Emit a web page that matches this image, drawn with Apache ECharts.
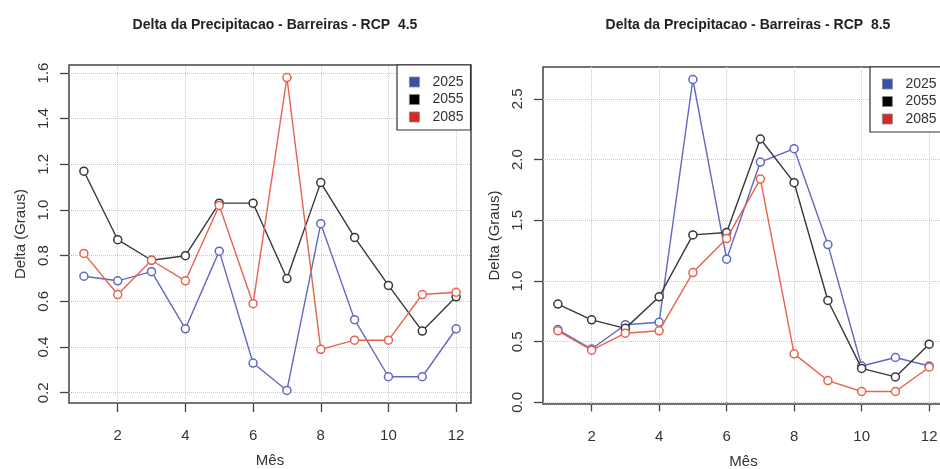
<!DOCTYPE html>
<html>
<head>
<meta charset="utf-8">
<script src="https://cdn.jsdelivr.net/npm/echarts@6/dist/echarts.min.js"></script>
<style>
html,body{margin:0;padding:0;background:#fff;}
#chart{width:940px;height:469px;}
</style>
</head>
<body>
<div id="chart"></div>
<script>
// ---- data ----
var months = [1,2,3,4,5,6,7,8,9,10,11,12];
var seriesNames = ['2025','2055','2085'];
// RCP 4.5
var rcp45_2025 = [0.71,0.69,0.73,0.48,0.82,0.33,0.21,0.94,0.52,0.27,0.27,0.48];
var rcp45_2055 = [1.17,0.87,0.78,0.80,1.03,1.03,0.70,1.12,0.88,0.67,0.47,0.62];
var rcp45_2085 = [0.81,0.63,0.78,0.69,1.02,0.59,1.58,0.39,0.43,0.43,0.63,0.64];
// RCP 8.5
var rcp85_2025 = [0.60,0.44,0.64,0.66,2.66,1.18,1.98,2.09,1.30,0.30,0.37,0.30];
var rcp85_2055 = [0.81,0.68,0.61,0.87,1.38,1.40,2.17,1.81,0.84,0.28,0.21,0.48];
var rcp85_2085 = [0.59,0.43,0.57,0.59,1.07,1.35,1.84,0.40,0.18,0.09,0.09,0.29];
// tick labels
var xTicks = [2,4,6,8,10,12];
var yTicks45 = [0.2,0.4,0.6,0.8,1.0,1.2,1.4,1.6];
var yTicks85 = [0.0,0.5,1.0,1.5,2.0,2.5];
var titles = ['Delta da Precipitacao - Barreiras - RCP  4.5','Delta da Precipitacao - Barreiras - RCP  8.5'];

// ---- styles ----
var lineColors = ['#6068c0','#383838','#e8624e'];
var legendColors = ['#3850a8','#000000','#d62828'];
var FONT = 'Liberation Sans, Arial, sans-serif';
var axisColor = '#444';

function pairs(vals){ return months.map(function(m,i){ return [m, vals[i]]; }); }

function gridMarks(yt){
  var d = [];
  xTicks.forEach(function(v){ d.push({xAxis: v}); });
  yt.forEach(function(v){ d.push({yAxis: v}); });
  return d;
}

function makeXAxis(idx){
  return {
    type:'value', gridIndex: idx, min:0.56, max:12.44,
    name:'Mês', nameLocation:'middle', nameGap:50,
    nameTextStyle:{fontFamily:FONT, fontSize:15, color:'#333'},
    axisLine:{show:false},
    axisTick:{show:true, inside:false, length:9, customValues: xTicks, lineStyle:{color:axisColor, width:1.3}},
    axisLabel:{show:true, margin:25, customValues: xTicks, fontFamily:FONT, fontSize:15, color:'#333',
      formatter:function(v){return String(v);}},
    splitLine:{show:false}
  };
}
function makeYAxis(idx, min, max, yt){
  return {
    type:'value', gridIndex: idx, min:min, max:max,
    name:'Delta (Graus)', nameLocation:'middle', nameGap:41, nameRotate:90,
    nameTextStyle:{fontFamily:FONT, fontSize:15, color:'#333'},
    axisLine:{show:false},
    axisTick:{show:true, inside:false, length:9, customValues: yt, lineStyle:{color:axisColor, width:1.3}},
    axisLabel:{show:true, margin:18, rotate:90, customValues: yt, fontFamily:FONT, fontSize:15, color:'#333',
      formatter:function(v){return v.toFixed(1);}},
    splitLine:{show:false}
  };
}

function makeSeries(idx, arrs, yt){
  return arrs.map(function(vals, k){
    var s = {
      type:'line', name: seriesNames[k], xAxisIndex: idx, yAxisIndex: idx,
      data: pairs(vals), symbol:'circle', symbolSize:8, showSymbol:true,
      lineStyle:{color: lineColors[k], width:1.4},
      itemStyle:{color:'#fff', borderColor: lineColors[k], borderWidth:1.5},
      emphasis:{disabled:true}, z: 3 + k, animation:false
    };
    if (k === 0) {
      s.markLine = {
        silent:true, symbol:['none','none'], z:1, animation:false,
        label:{show:false},
        lineStyle:{color:'#c8c8c8', type:'dotted', width:1},
        data: gridMarks(yt)
      };
    }
    return s;
  });
}

function makeLegend(left, top){
  return {
    orient:'vertical', left:left, top:top,
    backgroundColor:'#fff', borderColor:'#333', borderWidth:1.2,
    padding:[10, 7, 6, 12], itemGap:3.5, itemWidth:10, itemHeight:10, icon:'rect',
    textStyle:{fontFamily:FONT, fontSize:14, color:'#333', padding:[0,0,0,8]},
    data: seriesNames.map(function(n,k){
      return {name:n, icon:'rect', itemStyle:{color:legendColors[k], borderColor:'#888', borderWidth:0.8}};
    }),
    selectedMode:false
  };
}

var chart = echarts.init(document.getElementById('chart'), null, {renderer:'canvas'});
chart.setOption({
  backgroundColor:'#ffffff',
  animation:false,
  title:[
    {text:titles[0], left:270, top:13, textAlign:'center',
     textStyle:{fontFamily:FONT, fontSize:14, fontWeight:'bold', color:'#222'}},
    {text:titles[1], left:743, top:13, textAlign:'center',
     textStyle:{fontFamily:FONT, fontSize:14, fontWeight:'bold', color:'#222'}}
  ],
  grid:[
    {left:69, top:65, width:402, height:338, show:true, borderColor:'#444', borderWidth:1.5,
     backgroundColor:'transparent', outerBoundsMode:'none', containLabel:false},
    {left:543, top:67, width:401, height:337, show:true, borderColor:'#444', borderWidth:1.5,
     backgroundColor:'transparent', outerBoundsMode:'none', containLabel:false}
  ],
  xAxis:[makeXAxis(0), makeXAxis(1)],
  yAxis:[makeYAxis(0, 0.155, 1.635, yTicks45), makeYAxis(1, -0.013, 2.763, yTicks85)],
  legend:[makeLegend(397, 65), makeLegend(870, 67)],
  series: makeSeries(0, [rcp45_2025, rcp45_2055, rcp45_2085], yTicks45)
    .concat(makeSeries(1, [rcp85_2025, rcp85_2055, rcp85_2085], yTicks85))
});
</script>
</body>
</html>
